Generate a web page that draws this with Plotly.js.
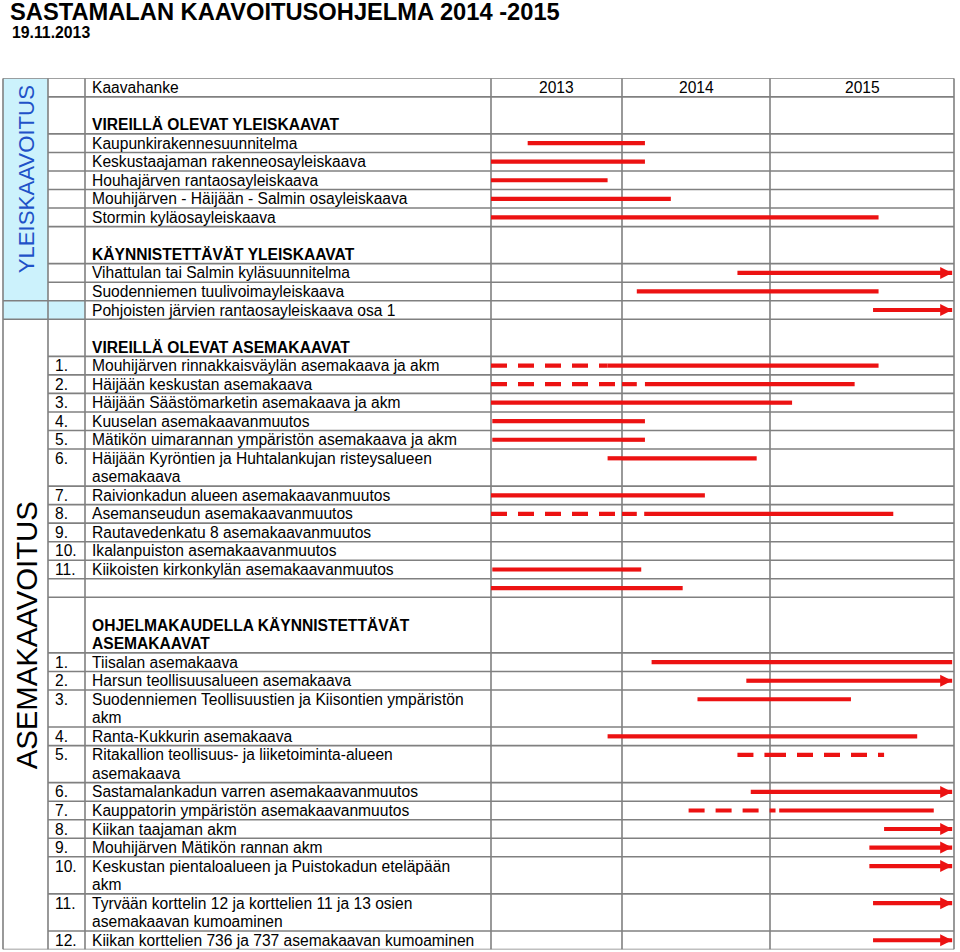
<!DOCTYPE html>
<html><head><meta charset="utf-8">
<script src="https://cdn.plot.ly/plotly-3.0.1.min.js"></script>
<style>html,body{margin:0;padding:0;background:#fff}#chart{width:960px;height:952px}</style>
</head><body><div id="chart"></div>
<script>
// ---------------- DATA ----------------
const chartTitle = 'SASTAMALAN KAAVOITUSOHJELMA 2014 -2015';
const chartDate = '19.11.2013';
const years = [2013, 2014, 2015];
const sectionLabels = ['YLEISKAAVOITUS', 'ASEMAKAAVOITUS'];

// table rows ("\n" = new text line inside the cell)
const rowNums = ['', '', '', '', '', '', '', '', '', '', '',
  '', '1.', '2.', '3.', '4.', '5.', '6.', '7.', '8.', '9.', '10.', '11.', '',
  '', '1.', '2.', '3.', '4.', '5.', '6.', '7.', '8.', '9.', '10.', '11.', '12.'];
const rowTexts = [
  'Kaavahanke',
  '\nVIREILLÄ OLEVAT YLEISKAAVAT',
  'Kaupunkirakennesuunnitelma',
  'Keskustaajaman rakenneosayleiskaava',
  'Houhajärven rantaosayleiskaava',
  'Mouhijärven - Häijään - Salmin osayleiskaava',
  'Stormin kyläosayleiskaava',
  '\nKÄYNNISTETTÄVÄT YLEISKAAVAT',
  'Vihattulan tai Salmin kyläsuunnitelma',
  'Suodenniemen tuulivoimayleiskaava',
  'Pohjoisten järvien rantaosayleiskaava osa 1',
  '\nVIREILLÄ OLEVAT ASEMAKAAVAT',
  'Mouhijärven rinnakkaisväylän asemakaava ja akm',
  'Häijään keskustan asemakaava',
  'Häijään Säästömarketin asemakaava ja akm',
  'Kuuselan asemakaavanmuutos',
  'Mätikön uimarannan ympäristön asemakaava ja akm',
  'Häijään Kyröntien ja Huhtalankujan risteysalueen\nasemakaava',
  'Raivionkadun alueen asemakaavanmuutos',
  'Asemanseudun asemakaavanmuutos',
  'Rautavedenkatu 8 asemakaavanmuutos',
  'Ikalanpuiston asemakaavanmuutos',
  'Kiikoisten kirkonkylän asemakaavanmuutos',
  '',
  '\nOHJELMAKAUDELLA KÄYNNISTETTÄVÄT\nASEMAKAAVAT',
  'Tiisalan asemakaava',
  'Harsun teollisuusalueen asemakaava',
  'Suodenniemen Teollisuustien ja Kiisontien ympäristön\nakm',
  'Ranta-Kukkurin asemakaava',
  'Ritakallion teollisuus- ja liiketoiminta-alueen\nasemakaava',
  'Sastamalankadun varren asemakaavanmuutos',
  'Kauppatorin ympäristön asemakaavanmuutos',
  'Kiikan taajaman akm',
  'Mouhijärven Mätikön rannan akm',
  'Keskustan pientaloalueen ja Puistokadun eteläpään\nakm',
  'Tyrvään korttelin 12 ja korttelien 11 ja 13 osien\nasemakaavan kumoaminen',
  'Kiikan korttelien 736 ja 737 asemakaavan kumoaminen'
];
const rowBold = [false, true, false, false, false, false, false, true, false, false, false,
  true, false, false, false, false, false, false, false, false, false, false, false, false,
  true, false, false, false, false, false, false, false, false, false, false, false, false];

// schedule bars: row index, start (year), end (year), kind
const barRow   = [2, 3, 4, 5, 6, 8, 9, 10,
  12, 12, 13, 13, 14, 15, 16, 17, 18, 19, 19, 22, 23,
  25, 26, 27, 28, 29, 30, 31, 31, 32, 33, 34, 35, 36];
const barStart = [2013.28, 2013.0, 2013.0, 2013.0, 2013.0, 2014.78, 2014.10, 2015.56,
  2013.0, 2013.89, 2013.0, 2014.155, 2013.0, 2013.01, 2013.01, 2013.89, 2013.0, 2013.0, 2014.15, 2013.01, 2013.0,
  2014.20, 2014.84, 2014.51, 2013.89, 2014.78, 2014.87, 2014.45, 2015.05, 2015.62, 2015.54, 2015.54, 2015.56, 2015.56];
const barEnd   = [2014.155, 2014.155, 2013.89, 2014.33, 2015.59, 2015.99, 2015.59, 2015.99,
  2013.89, 2015.59, 2014.10, 2015.46, 2015.12, 2014.155, 2014.155, 2014.91, 2014.56, 2014.10, 2015.67, 2014.13, 2014.41,
  2015.99, 2015.99, 2015.44, 2015.80, 2015.62, 2015.99, 2015.03, 2015.89, 2015.99, 2015.99, 2015.99, 2015.99, 2015.99];
const barKind  = ['solid', 'solid', 'solid', 'solid', 'solid', 'arrow', 'solid', 'arrow',
  'dashed', 'solid', 'dashed', 'solid', 'solid', 'solid', 'solid', 'solid', 'solid', 'dashed', 'solid', 'solid', 'solid',
  'solid', 'arrow', 'solid', 'solid', 'dashed', 'arrow', 'dashed', 'solid', 'arrow', 'arrow', 'arrow', 'arrow', 'arrow'];

// ---------------- LAYOUT HELPERS ----------------
const W = 960, H = 952;
const colX = [3, 48, 85, 491, 622, 770, 954];   // table column borders (px)
const tableTop = 78.3, tableBottom = 949.5;
const FONT = 'Liberation Sans, Arial, sans-serif';
const RED = 'rgb(236,18,18)';
const GRID = '#808080';
const CYAN = '#ccf2fc';

const rowLines = rowTexts.map(t => t.split('\n').length);
const rowTop = [];
let acc = 0;
rowLines.forEach(n => { rowTop.push(acc); acc += n; });
const totalLines = acc;

const px = v => v / W;
const axisIds = ['x', 'x2', 'x3'];

// ---------------- TRACES ----------------
const traces = [];
years.forEach((yr, k) => {
  ['solid', 'dashed'].forEach(style => {
    const xs = [], ys = [];
    barRow.forEach((r, i) => {
      const kind = barKind[i] === 'arrow' ? 'solid' : barKind[i];
      if (kind !== style) return;
      const a = Math.max(barStart[i], yr), b = Math.min(barEnd[i], yr + 1);
      if (b <= a) return;
      const y = rowTop[r] + 0.5;
      xs.push(a, b, null); ys.push(y, y, null);
    });
    traces.push({
      type: 'scatter', mode: 'lines', x: xs, y: ys,
      xaxis: axisIds[k], yaxis: 'y', hoverinfo: 'skip', showlegend: false,
      line: {color: RED, width: 4.2, dash: style === 'dashed' ? '16px,11px' : 'solid'}
    });
  });
});
// arrow heads
years.forEach((yr, k) => {
  const xs = [], ys = [];
  barRow.forEach((r, i) => {
    if (barKind[i] !== 'arrow') return;
    if (Math.floor(barEnd[i]) !== yr) return;
    xs.push(barEnd[i]); ys.push(rowTop[r] + 0.5);
  });
  if (!xs.length) return;
  traces.push({
    type: 'scatter', mode: 'markers', x: xs, y: ys, cliponaxis: false,
    xaxis: axisIds[k], yaxis: 'y', hoverinfo: 'skip', showlegend: false,
    marker: {symbol: 'arrow-right', size: 12, color: RED, line: {width: 0}}
  });
});

// ---------------- SHAPES ----------------
const shapes = [];
// cyan cells
shapes.push({type: 'rect', layer: 'below', xref: 'paper', yref: 'y',
  x0: px(colX[0]), x1: px(colX[1]), y0: 0, y1: rowTop[10], fillcolor: CYAN, line: {width: 0}});
shapes.push({type: 'rect', layer: 'below', xref: 'paper', yref: 'y',
  x0: px(colX[0]), x1: px(colX[2]), y0: rowTop[10], y1: rowTop[11], fillcolor: CYAN, line: {width: 0}});
// vertical borders
colX.forEach(cx => shapes.push({type: 'line', layer: 'below', xref: 'paper', yref: 'y',
  x0: px(cx), x1: px(cx), y0: 0, y1: totalLines, line: {color: GRID, width: 1.6}}));
// horizontal borders
const fullRows = [0, 10, 11];
rowTop.forEach((t, r) => {
  const x0 = fullRows.includes(r) ? colX[0] : colX[1];
  shapes.push({type: 'line', layer: 'below', xref: 'paper', yref: 'y',
    x0: px(x0), x1: px(colX[6]), y0: t, y1: t, line: {color: GRID, width: 1.6}});
});
shapes.push({type: 'line', layer: 'below', xref: 'paper', yref: 'y',
  x0: px(colX[0]), x1: px(colX[6]), y0: totalLines, y1: totalLines, line: {color: GRID, width: 1.6}});

// ---------------- ANNOTATIONS ----------------
const ann = [];
const TF = 15.6;
rowTexts.forEach((t, r) => {
  t.split('\n').forEach((line, j) => {
    if (!line) return;
    ann.push({xref: 'paper', yref: 'y', x: px(90), y: rowTop[r] + j + 0.5,
      xanchor: 'left', yanchor: 'middle', showarrow: false,
      text: rowBold[r] ? '<b>' + line + '</b>' : line,
      font: {family: FONT, size: TF, color: '#000'}});
  });
  if (rowNums[r]) ann.push({xref: 'paper', yref: 'y', x: px(53), y: rowTop[r] + 0.5,
    xanchor: 'left', yanchor: 'middle', showarrow: false, text: rowNums[r],
    font: {family: FONT, size: TF, color: '#000'}});
});
years.forEach((yr, k) => ann.push({xref: axisIds[k] + ' domain', yref: 'y', x: 0.5, y: 0.5,
  xanchor: 'center', yanchor: 'middle', showarrow: false, text: String(yr),
  font: {family: FONT, size: TF, color: '#000'}}));
ann.push({xref: 'paper', yref: 'y', x: px(26), y: rowTop[10] / 2 - 0.55, textangle: -90,
  xanchor: 'center', yanchor: 'middle', showarrow: false, text: sectionLabels[0],
  font: {family: FONT, size: 22.2, color: '#1f52c8'}});
ann.push({xref: 'paper', yref: 'y', x: px(26), y: (rowTop[11] + totalLines) / 2 + 0.05, textangle: -90,
  xanchor: 'center', yanchor: 'middle', showarrow: false, text: sectionLabels[1],
  font: {family: FONT, size: 29.3, color: '#000'}});
ann.push({xref: 'paper', yref: 'paper', x: px(10), y: 1 - 33 / H,
  xanchor: 'left', yanchor: 'middle', showarrow: false, text: '<b>' + chartDate + '</b>',
  font: {family: FONT, size: 15.8, color: '#000'}});

const layout = {
  width: W, height: H,
  margin: {l: 0, r: 0, t: 0, b: 0},
  paper_bgcolor: '#fff', plot_bgcolor: 'rgba(0,0,0,0)',
  showlegend: false,
  title: {text: '<b>' + chartTitle + '</b>', x: px(10), xanchor: 'left', xref: 'paper',
    y: 1 - 12 / H, yanchor: 'middle', yref: 'container',
    font: {family: FONT, size: 23.7, color: '#000'}},
  xaxis:  {domain: [px(colX[3]), px(colX[4])], range: [2013, 2014], visible: false, anchor: 'y', fixedrange: true},
  xaxis2: {domain: [px(colX[4]), px(colX[5])], range: [2014, 2015], visible: false, anchor: 'y', fixedrange: true},
  xaxis3: {domain: [px(colX[5]), px(colX[6])], range: [2015, 2016], visible: false, anchor: 'y', fixedrange: true},
  yaxis:  {domain: [1 - tableBottom / H, 1 - tableTop / H], range: [totalLines, 0], visible: false, anchor: 'x', fixedrange: true},
  shapes: shapes,
  annotations: ann
};

Plotly.newPlot('chart', traces, layout, {displayModeBar: false, staticPlot: true});
</script>
</body></html>
